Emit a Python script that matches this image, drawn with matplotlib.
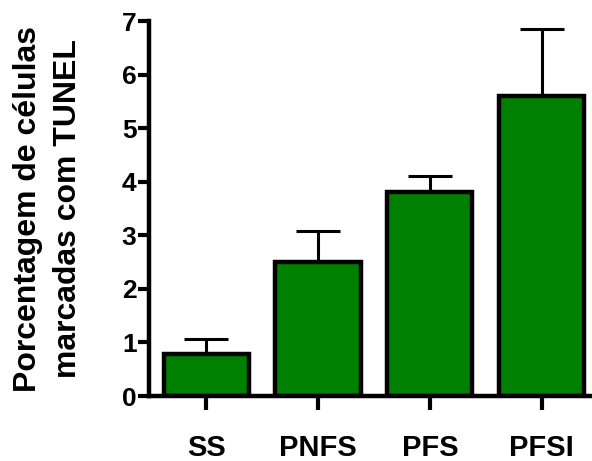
import matplotlib
matplotlib.use("Agg")
import matplotlib.pyplot as plt
import numpy as np

# group labels and values
groups = ["SS", "PNFS", "PFS", "PFSI"]
means = [0.78, 2.50, 3.80, 5.60]
errors = [0.28, 0.58, 0.30, 1.25]

GREEN = "#008000"

plt.rcParams['font.family'] = ['Liberation Sans', 'DejaVu Sans']
plt.rcParams['font.weight'] = 'bold'

fig = plt.figure(figsize=(5.92, 4.61), dpi=100)
ax = fig.add_axes([149/592, 1 - 396/461, (590 - 149)/592, (396 - 21)/461])

x = np.arange(len(groups))
ax.errorbar(x, means, yerr=[np.zeros(len(means)), errors], fmt='none',
            ecolor='black', elinewidth=2.2, capsize=16, capthick=2.2, zorder=1)
ax.bar(x, means, width=0.76, color=GREEN, edgecolor='black', linewidth=3.2, zorder=2)

ax.set_xlim(-0.51, 3.43)
ax.set_ylim(0, 7)
ax.set_yticks(range(8))
ax.set_xticks(x)
ax.set_xticklabels(groups, fontsize=21, fontweight='bold')
ax.tick_params(axis='y', labelsize=19, width=3, length=8, pad=1)
ax.tick_params(axis='x', width=3, length=10, pad=17)

for s in ['top', 'right']:
    ax.spines[s].set_visible(False)
for s in ['left', 'bottom']:
    ax.spines[s].set_linewidth(3.2)

ax.set_ylabel("Porcentagem de células\nmarcadas com TUNEL", fontsize=23,
              fontweight='bold', linespacing=1.42, va='center')
ax.yaxis.set_label_coords((48 - 149) / 441, 0.5)

fig.savefig("out.png", dpi=100)
